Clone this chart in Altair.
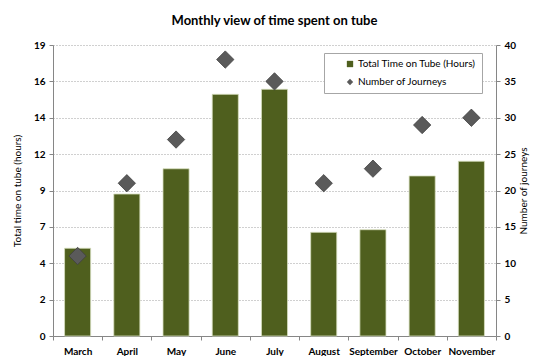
import altair as alt
import pandas as pd

months = ["March", "April", "May", "June", "July", "August", "September", "October", "November"]
hours = [5.73, 9.27, 10.92, 15.78, 16.11, 6.77, 6.94, 10.45, 11.41]
journeys = [11, 21, 27, 38, 35, 21, 23, 29, 30]
left_tick_labels = ["0", "2", "4", "7", "9", "12", "14", "16", "19"]
right_ticks = [0, 5, 10, 15, 20, 25, 30, 35, 40]
series_names = ["Total Time on Tube (Hours)", "Number of Journeys"]

df = pd.DataFrame({"month": months, "hours": hours, "journeys": journeys})

FONT = "Lato"
OLIVE = "#4F5F1E"
GREY = "#5A5A5A"
AXIS_GREY = "#868686"

left_max = 19
left_vals = [left_max * i / 8 for i in range(9)]
lab_arr = "[" + ",".join("'" + s + "'" for s in left_tick_labels) + "]"

x_enc = alt.X(
    "month:N", sort=months,
    scale=alt.Scale(paddingInner=0, paddingOuter=0),
    axis=alt.Axis(title=None, labelAngle=0, tickBand="extent", tickSize=4,
                  domainColor=AXIS_GREY, tickColor=AXIS_GREY, labelPadding=6),
)

color_enc = alt.Color(
    "series:N",
    scale=alt.Scale(domain=series_names, range=[OLIVE, GREY]),
    legend=alt.Legend(title=None, orient="none", legendX=271, legendY=8,
                      fillColor="white", strokeColor="#a6a6a6", padding=6,
                      symbolOffset=15, labelOffset=3, rowPadding=8, labelFontSize=10,
                      labelFont=FONT, symbolSize=40, labelLimit=250,
                      symbolStrokeWidth=0,
                      labelExpr="datum.label + '\u00a0\u00a0\u00a0\u00a0\u00a0'",
                      labelColor="#000000"),
)
shape_enc = alt.Shape(
    "series:N",
    scale=alt.Scale(domain=series_names, range=["square", "diamond"]),
    legend=None,
)

bars = alt.Chart(df).transform_calculate(
    series="'" + series_names[0] + "'"
).mark_bar(width=alt.RelativeBandSize(0.53), stroke="#d8e0c0", strokeWidth=0.8).encode(
    x=x_enc,
    y=alt.Y("hours:Q", scale=alt.Scale(domain=[0, left_max], nice=False),
            axis=alt.Axis(values=left_vals,
                          labelExpr=lab_arr + "[round(datum.value*8/" + str(left_max) + ")]",
                          grid=True, gridDash=[1, 2], gridColor="#a0a0a0",
                          title="Total time on tube (hours)", titlePadding=11,
                          tickSize=4, domainColor=AXIS_GREY, tickColor=AXIS_GREY,
                          labelPadding=4)),
    color=color_enc,
)

points = alt.Chart(df).transform_calculate(
    series="'" + series_names[1] + "'"
).mark_point(filled=True, size=300, stroke="#404040", strokeWidth=0.8, opacity=1).encode(
    x=x_enc,
    y=alt.Y("journeys:Q", scale=alt.Scale(domain=[0, 40], nice=False),
            axis=alt.Axis(orient="right", values=right_ticks, grid=False,
                          title="Number of journeys", titleAngle=270, titleBaseline="top",
                          titlePadding=3,
                          tickSize=4, domainColor=AXIS_GREY, tickColor=AXIS_GREY,
                          labelPadding=4)),
    color=color_enc,
    shape=shape_enc,
)

chart = alt.layer(bars, points).resolve_scale(y="independent").properties(
    width=443, height=291,
    autosize=alt.AutoSizeParams(type="none"),
    padding={"left": 45, "top": 37, "right": 46, "bottom": 20},
    title=alt.TitleParams("Monthly view of time spent on tube", font=FONT, fontSize=13,
                          fontWeight="bold", anchor="middle", offset=12, color="#000000"),
).configure_view(stroke=None).configure_axis(
    labelFont=FONT, labelFontSize=10, labelFontWeight="bold", labelColor="#000000",
    titleFont=FONT, titleFontSize=10, titleFontWeight="normal", titleColor="#000000",
)

chart.save("out.html", embed_options={"renderer": "svg", "actions": False})
